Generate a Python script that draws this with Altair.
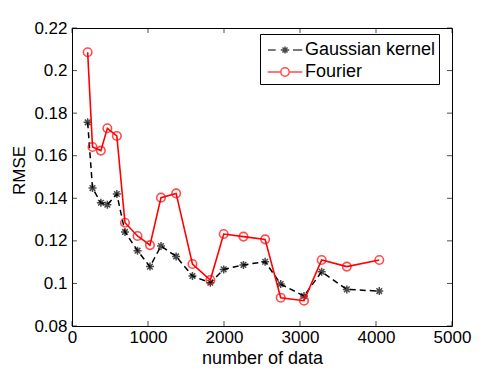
import altair as alt
import pandas as pd

# ---- data ----
n_data = [206, 270, 380, 465, 590, 697, 862, 1026, 1171, 1370, 1585, 1820,
          1996, 2256, 2541, 2746, 3053, 3285, 3616, 4043]
gaussian = [0.1757, 0.1448, 0.1379, 0.1370, 0.1420, 0.1242, 0.1154, 0.1079,
            0.1176, 0.1127, 0.1035, 0.1003, 0.1066, 0.1087, 0.1102, 0.0997,
            0.0941, 0.1055, 0.0972, 0.0964]
fourier = [0.2086, 0.1641, 0.1624, 0.1729, 0.1693, 0.1285, 0.1223, 0.1180,
           0.1403, 0.1423, 0.1091, 0.1016, 0.1232, 0.1220, 0.1207, 0.0933,
           0.0919, 0.1110, 0.1079, 0.1110]
series_names = ["Gaussian kernel", "Fourier"]
x_ticks = [0, 1000, 2000, 3000, 4000, 5000]
y_ticks = [0.08, 0.10, 0.12, 0.14, 0.16, 0.18, 0.20, 0.22]

df = pd.DataFrame({
    "n": n_data * 2,
    "rmse": gaussian + fourier,
    "series": [series_names[0]] * len(n_data) + [series_names[1]] * len(n_data),
})
xt = pd.DataFrame({"t": x_ticks})
yt = pd.DataFrame({"t": y_ticks})

FONT = "Liberation Sans"
FS = 17

xscale = alt.Scale(domain=[0, 5000], nice=False, zero=False)
yscale = alt.Scale(domain=[0.08, 0.22], nice=False, zero=False)

xaxis = alt.Axis(values=x_ticks, format="d", title="number of data", grid=False,
                 ticks=False, domain=False, labelFlush=False, labelOverlap=False,
                 labelPadding=3, titleY=32, titleBaseline="middle", titleFontSize=18)
yaxis = alt.Axis(values=y_ticks, format="~g", title="RMSE", grid=False,
                 ticks=False, domain=False, labelFlush=False, labelOverlap=False,
                 labelPadding=5, titleX=-48, titleY=142, titleBaseline="alphabetic",
                 titleFontSize=17)

base = alt.Chart(df).encode(
    x=alt.X("n:Q", scale=xscale, axis=xaxis),
    y=alt.Y("rmse:Q", scale=yscale, axis=yaxis),
)

star = "M0,-1V1M-1,0H1M-0.7,-0.7L0.7,0.7M-0.7,0.7L0.7,-0.7"

g = base.transform_filter(alt.datum.series == series_names[0])
f = base.transform_filter(alt.datum.series == series_names[1])

g_line = g.mark_line(color="black", strokeDash=[6, 4], strokeWidth=1.5)
g_pts = g.mark_point(shape=star, size=64, color="black", strokeWidth=1.5, filled=False)
f_line = f.mark_line(color="#ff0000", strokeWidth=1.6)
f_pts = f.mark_point(shape="circle", size=72, color="#ff0000", strokeWidth=1.6, filled=False)

leg_gauss = ("M-1.42,0H-0.78 M-0.35,0H0.35 M0.67,0H1.44 "
             "M0,-0.3V0.3 M-0.3,0H0.3 M-0.21,-0.21L0.21,0.21 M-0.21,0.21L0.21,-0.21")
leg_four = ("M-1.45,0H-0.35 M0.35,0H1.45 "
            "M0.35,0A0.35,0.35 0 1,1 -0.35,0A0.35,0.35 0 1,1 0.35,0")

legend_layer = base.transform_filter("false").mark_point(filled=False, strokeWidth=1.5).encode(
    color=alt.Color("series:N",
                    scale=alt.Scale(domain=series_names, range=["black", "#ff0000"]),
                    legend=alt.Legend(orient="none", legendX=188, legendY=6, title=None,
                                      strokeColor="black", fillColor="white", padding=3,
                                      rowPadding=0, symbolSize=576, symbolStrokeWidth=1.5,
                                      symbolOffset=9, labelOffset=7, labelFontSize=FS + 1,
                                      labelFont=FONT, labelColor="black", cornerRadius=0)),
    shape=alt.Shape("series:N",
                    scale=alt.Scale(domain=series_names, range=[leg_gauss, leg_four])),
)

tk = dict(color="black", thickness=1, size=5)
bottom = alt.Chart(xt).mark_tick(orient="vertical", yOffset=-2.5, **tk).encode(
    x=alt.X("t:Q", scale=xscale), y=alt.YDatum(0.08, scale=yscale))
top = alt.Chart(xt).mark_tick(orient="vertical", yOffset=2.5, **tk).encode(
    x=alt.X("t:Q", scale=xscale), y=alt.YDatum(0.22, scale=yscale))
left = alt.Chart(yt).mark_tick(orient="horizontal", xOffset=2.5, **tk).encode(
    y=alt.Y("t:Q", scale=yscale), x=alt.XDatum(0, scale=xscale))
right = alt.Chart(yt).mark_tick(orient="horizontal", xOffset=-2.5, **tk).encode(
    y=alt.Y("t:Q", scale=yscale), x=alt.XDatum(5000, scale=xscale))

chart = alt.layer(
    bottom, top, left, right, g_line, g_pts, f_line, f_pts, legend_layer
).properties(
    width=380, height=298,
    autosize=alt.AutoSizeParams(type="none"),
    padding={"left": 64, "top": 20, "right": 38, "bottom": 40},
    background="white",
).configure_view(
    stroke="black", strokeWidth=1
).configure_axis(
    labelFont=FONT, labelFontSize=FS, labelColor="black",
    titleFont=FONT, titleFontWeight="normal", titleColor="black",
)

chart.save("out.html", embed_options={"renderer": "svg", "actions": False})
